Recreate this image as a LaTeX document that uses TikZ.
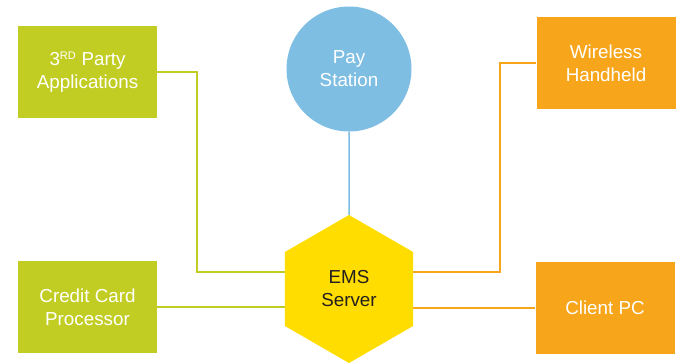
\documentclass[tikz,border=0pt]{standalone}
\usepackage{fontspec}
\setmainfont{Liberation Sans}
\usetikzlibrary{shapes.geometric}

\definecolor{emsgreen}{HTML}{C2CD23}
\definecolor{emsorange}{HTML}{F7A61C}
\definecolor{emsyellow}{HTML}{FFDD00}
\definecolor{emsblue}{HTML}{7EBEE3}
\definecolor{emstext}{HTML}{231F20}

\tikzset{
  box/.style={rectangle, minimum width=139pt, minimum height=92pt, inner sep=0pt,
    text=white, align=center, font=\fontsize{18.8}{23}\selectfont},
  greenbox/.style={box, fill=emsgreen},
  orangebox/.style={box, fill=emsorange},
  greenline/.style={emsgreen, line width=1.5pt},
  orangeline/.style={emsorange, line width=1.5pt},
}

\begin{document}
\begin{tikzpicture}[x=1pt, y=-1pt]
\useasboundingbox (0,0) rectangle (678,362);

% EMS server in the middle
\node[regular polygon, regular polygon sides=6, shape border rotate=30,
  minimum size=148pt, inner sep=0pt, fill=emsyellow, text=emstext, align=center,
  font=\fontsize{18.8}{23}\selectfont] (ems) at (349,289) {EMS\\Server};

% Pay station on top
\node[circle, minimum size=125pt, inner sep=0pt, fill=emsblue, text=white,
  align=center, font=\fontsize{18.8}{23}\selectfont] (pay) at (349,69) {Pay\\Station};

% Boxes left and right
\node[greenbox] (tpa) at (87.5,72) {3\textsuperscript{\fontsize{11}{11}\selectfont RD} Party\\Applications};
\node[greenbox] (ccp) at (87.5,307) {Credit Card\\Processor};
\node[orangebox] (whh) at (606,63) {Wireless\\Handheld};
\node[orangebox] (cpc) at (605,308) {Client PC};

% Bends of the connectors
\coordinate (lbend) at (197,272);
\coordinate (rbend) at (500,272);

% Connectors
\draw[emsblue, line width=1.5pt] (pay.south) -- (ems.north);
\draw[greenline] (tpa.east) -| (lbend) -- (lbend -| ems.west);
\draw[greenline] (ccp.east) -- (ccp.east -| ems.west);
\draw[orangeline] (whh.west) -| (rbend) -- (rbend -| ems.east);
\draw[orangeline] (cpc.west) -- (cpc.west -| ems.east);
\end{tikzpicture}
\end{document}
